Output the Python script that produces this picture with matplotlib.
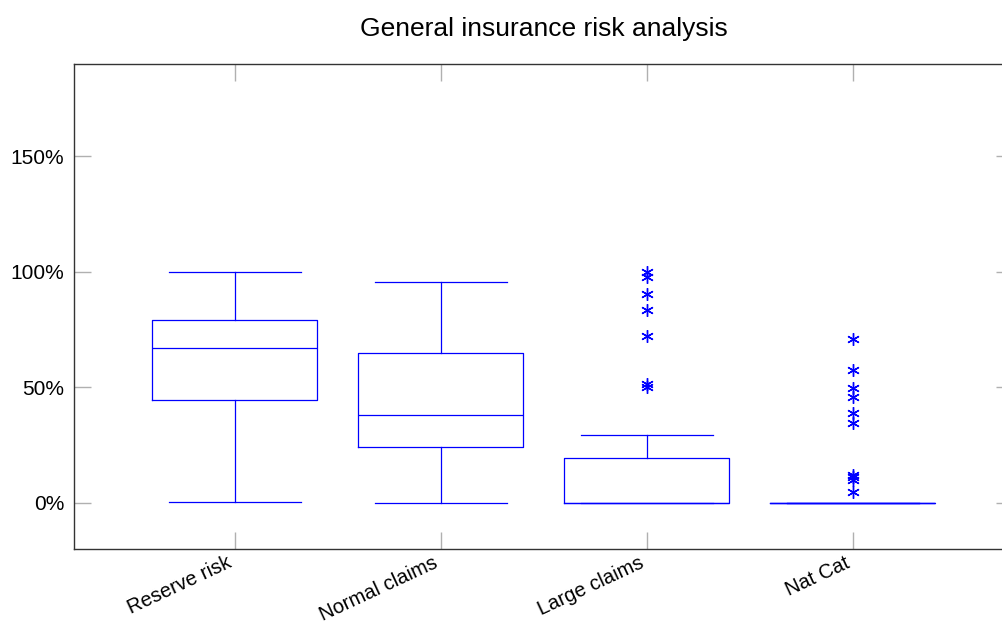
import matplotlib
matplotlib.use("Agg")
import matplotlib.pyplot as plt

plt.rcParams['font.family'] = ['Liberation Sans', 'DejaVu Sans']

# box statistics (fractions, 1.0 = 100%)
categories = ["Reserve risk", "Normal claims", "Large claims", "Nat Cat"]
whislo = [0.005, 0.0, 0.0, 0.0]
q1 = [0.446, 0.242, 0.0, 0.0]
med = [0.671, 0.381, 0.0, 0.0]
q3 = [0.792, 0.649, 0.195, 0.0]
whishi = [1.0, 0.957, 0.294, 0.0]
fliers = [
    [],
    [],
    [1.0, 0.978, 0.905, 0.835, 0.723, 0.515, 0.502],
    [0.710, 0.576, 0.498, 0.459, 0.390, 0.346, 0.12, 0.11, 0.10, 0.048],
]
yticks = [0, 0.5, 1.0, 1.5]
ytick_labels = ["0%", "50%", "100%", "150%"]

stats = []
for i in range(len(categories)):
    stats.append(dict(label=categories[i], whislo=whislo[i], q1=q1[i], med=med[i],
                      q3=q3[i], whishi=whishi[i], fliers=fliers[i]))

fig = plt.figure(figsize=(10.03, 6.27), dpi=100)
ax = fig.add_axes([74/1003, 78/627, 0.9366, 485/627])

blue = '#0000ff'
lw = 0.9
ax.bxp(stats, positions=[1, 2, 3, 4], widths=0.8, capwidths=0.64,
       boxprops=dict(color=blue, linewidth=lw),
       whiskerprops=dict(color=blue, linewidth=lw),
       capprops=dict(color=blue, linewidth=lw),
       medianprops=dict(color=blue, linewidth=lw),
       flierprops=dict(marker=(6, 2, 0), markersize=9, markeredgewidth=1.0,
                       markerfacecolor=blue, markeredgecolor=blue, linestyle='none'))

ax.set_xlim(0.22, 4.78)
ax.set_ylim(-0.2, 1.9)
ax.set_yticks(yticks)
ax.set_yticklabels(ytick_labels, fontsize=15)
ax.set_xticks([1, 2, 3, 4])
ax.set_xticklabels(categories, fontsize=14.5, rotation=25, ha='right')

ax.tick_params(axis='both', direction='in', length=12, width=1, color='#b0b0b0',
               top=True, right=True)
ax.tick_params(axis='x', pad=3)
ax.tick_params(axis='y', pad=7)
for s in ax.spines.values():
    s.set_color('#333333')
    s.set_linewidth(1)

ax.set_title("General insurance risk analysis", fontsize=19, pad=20)

fig.savefig("out.png", dpi=100)
